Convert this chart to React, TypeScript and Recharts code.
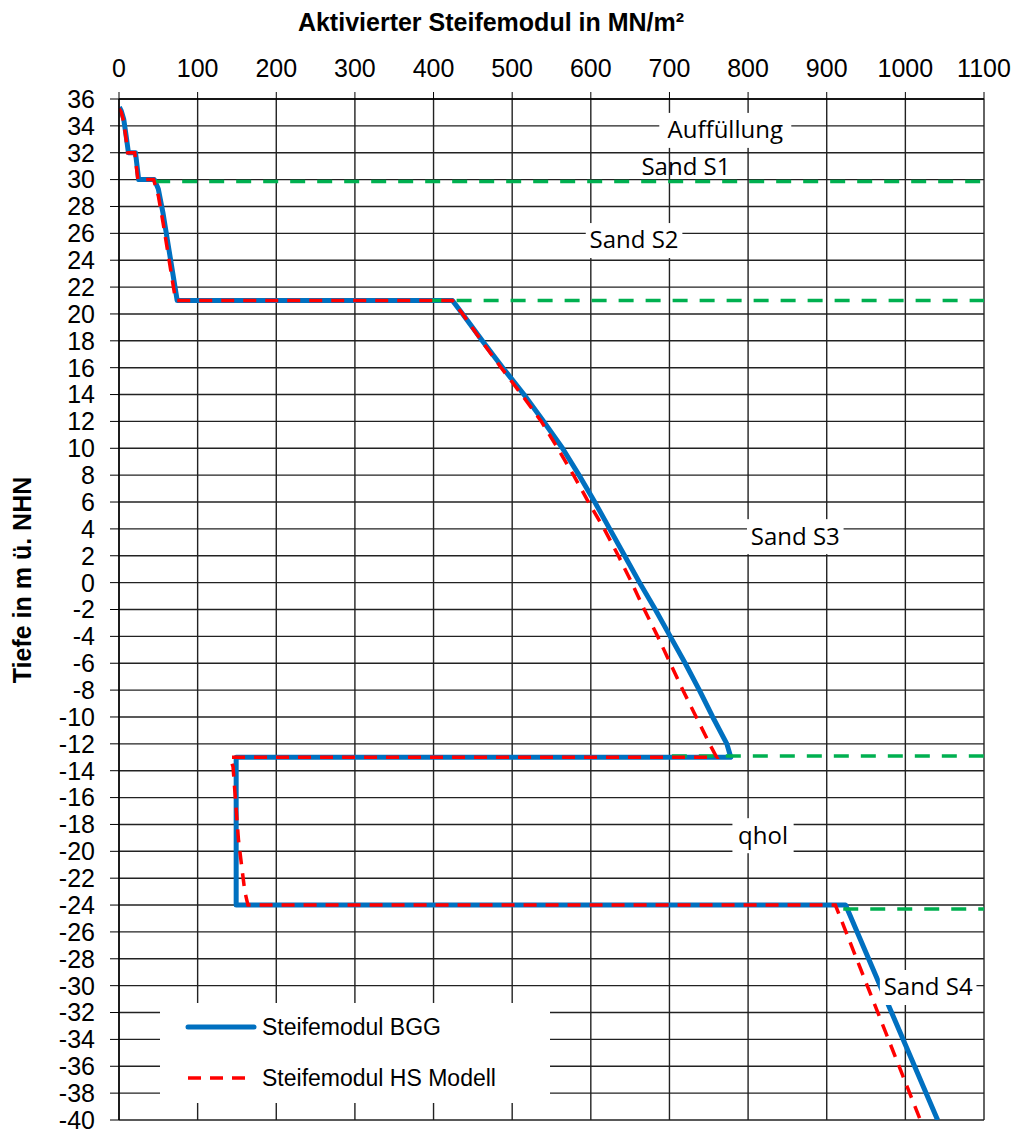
import { LineChart, Line, XAxis, YAxis, CartesianGrid, Legend, ReferenceDot } from 'recharts';

// x = Steifemodul [MN/m²], y = Höhe [m ü. NHN]
const X_TICKS = [0, 100, 200, 300, 400, 500, 600, 700, 800, 900, 1000, 1100];
const Y_TICKS = [
  -40, -38, -36, -34, -32, -30, -28, -26, -24, -22, -20, -18, -16, -14, -12, -10, -8, -6, -4, -2,
  0, 2, 4, 6, 8, 10, 12, 14, 16, 18, 20, 22, 24, 26, 28, 30, 32, 34, 36,
];

const BGG_CURVE: [number, number][] = [
  [0.5, 35.4], [3, 35.1], [6, 34.5], [9, 33.3], [12, 32], [21, 32], [25, 30], [45, 30],
  [50, 29.3], [56, 27.5], [74, 21], [424, 21], [437, 20], [462, 18], [488, 16], [515, 14],
  [540, 12], [564, 10], [585, 8], [605, 6], [624, 4], [643, 2], [662, 0], [682, -2],
  [701, -4], [720, -6], [738, -8], [755, -10], [773, -12], [778, -13], [149, -13],
  [149, -24], [924, -24], [1041, -40],
];

const HS_CURVE: [number, number][] = [
  [0, 35.3], [3, 35], [6, 34.3], [9, 33], [11, 32], [20, 32], [24, 30], [44, 30],
  [50, 28.8], [56, 26.8], [72, 21], [424, 21], [437, 20], [461, 18], [486, 16], [512, 14],
  [537, 12], [558, 10], [578, 8], [597, 6], [617, 4], [635, 2], [652, 0], [668, -2],
  [685, -4], [701, -6], [717, -8], [734, -10], [751, -12], [760, -13], [141, -13],
  [145, -13.7], [152, -19.2], [160, -23], [164, -24], [911, -24], [1019, -40],
];

// Schichtgrenzen (grün gestrichelt)
const LAYER_BOUNDS: [number, number][][] = [
  [[46, 29.85], [1100, 29.85]],
  [[395, 21], [1100, 21]],
  [[703, -12.9], [1100, -12.9]],
  [[921, -24.3], [1100, -24.3]],
];

const LAYER_NAMES = ['Auffüllung', 'Sand S1', 'Sand S2', 'Sand S3', 'qhol', 'Sand S4'];
const LAYER_NAME_X = [771, 721, 655, 860, 819, 1029];
const LAYER_NAME_Y = [33.7, 31.0, 25.5, 3.46, -18.8, -30.1];
const LAYER_NAME_BOX = [true, false, true, true, true, true];

const SERIES = [
  { name: 'Steifemodul BGG', color: '#0070C0', width: 5, dash: undefined as string | undefined },
  { name: 'Steifemodul HS Modell', color: '#FF0000', width: 3.5, dash: '13 9' },
];

const toPoints = (pairs: [number, number][]) => pairs.map(([x, y]) => ({ x, y }));

const AXIS_FONT = '"Liberation Sans", Arial, sans-serif';
const LABEL_FONT = '"Open Sans", "Noto Sans", sans-serif';

function layerLabel(text: string, box: boolean) {
  return (props: any) => {
    const vb = props.viewBox || {};
    const cx = vb.x + (vb.width || 0) / 2;
    const cy = vb.y + (vb.height || 0) / 2;
    const w = text.length * 11.8 + 14;
    return (
      <g>
        {box && <rect x={cx - w / 2} y={cy - 17} width={w} height={35} fill="#fff" />}
        <text
          x={cx}
          y={cy}
          dy="0.35em"
          textAnchor="middle"
          fontFamily={LABEL_FONT}
          fontSize={24}
          fill="#000"
        >
          {text}
        </text>
      </g>
    );
  };
}

function LegendBox() {
  return (
    <div style={{ width: 390, height: 100, position: 'relative', background: '#fff' }}>
      {SERIES.map((s, i) => (
        <div
          key={s.name}
          style={{
            position: 'absolute',
            left: 0,
            top: i * 51,
            height: 48,
            display: 'flex',
            alignItems: 'center',
            fontFamily: AXIS_FONT,
            fontSize: 23,
            color: '#000',
            whiteSpace: 'nowrap',
          }}
        >
          <svg width={100} height={48}>
            <line
              x1={28}
              x2={94}
              y1={24}
              y2={24}
              stroke={s.color}
              strokeWidth={s.width}
              strokeDasharray={s.dash}
              strokeLinecap={s.dash ? 'butt' : 'round'}
            />
          </svg>
          <span style={{ marginLeft: 2 }}>{s.name}</span>
        </div>
      ))}
    </div>
  );
}

export default function App() {
  return (
    <div style={{ position: 'absolute', left: 0, top: 0, width: 1016, height: 1136, background: '#fff' }}>
      <div
        style={{
          position: 'absolute',
          left: 491,
          top: 8,
          transform: 'translateX(-50%)',
          fontFamily: AXIS_FONT,
          fontWeight: 'bold',
          fontSize: 25,
          lineHeight: '28px',
          whiteSpace: 'nowrap',
        }}
      >
        Aktivierter Steifemodul in MN/m²
      </div>
      <div
        style={{
          position: 'absolute',
          left: 22,
          top: 580,
          transform: 'translate(-50%, -50%) rotate(-90deg)',
          fontFamily: AXIS_FONT,
          fontWeight: 'bold',
          fontSize: 25,
          lineHeight: '28px',
          whiteSpace: 'nowrap',
        }}
      >
        Tiefe in m ü. NHN
      </div>
      <LineChart width={1016} height={1136} margin={{ top: 59, right: 32, bottom: 16, left: 49 }}>
        <CartesianGrid stroke="#222" strokeWidth={1.4} />
        <XAxis
          type="number"
          dataKey="x"
          orientation="top"
          domain={[0, 1100]}
          ticks={X_TICKS}
          interval={0}
          allowDataOverflow
          height={40}
          tickSize={7}
          tickMargin={15}
          axisLine={{ stroke: '#000', strokeWidth: 1.4 }}
          tickLine={{ stroke: '#000' }}
          tick={{ fontSize: 25, fill: '#000', fontFamily: AXIS_FONT }}
        />
        <YAxis
          type="number"
          dataKey="y"
          domain={[-40, 36]}
          ticks={Y_TICKS}
          interval={0}
          allowDataOverflow
          width={70}
          tickSize={9}
          tickMargin={15}
          axisLine={{ stroke: '#000', strokeWidth: 1.4 }}
          tickLine={{ stroke: '#000' }}
          tick={{ fontSize: 25, fill: '#000', fontFamily: AXIS_FONT }}
        />
        <Line
          data={toPoints(BGG_CURVE)}
          dataKey="y"
          name={SERIES[0].name}
          type="linear"
          stroke={SERIES[0].color}
          strokeWidth={SERIES[0].width}
          strokeLinejoin="round"
          dot={false}
          activeDot={false}
          isAnimationActive={false}
        />
        {LAYER_BOUNDS.map((seg, i) => (
          <Line
            key={'bound' + i}
            data={toPoints(seg)}
            dataKey="y"
            type="linear"
            stroke="#00B050"
            strokeWidth={3.5}
            strokeDasharray="15 12"
            dot={false}
            activeDot={false}
            legendType="none"
            isAnimationActive={false}
          />
        ))}
        <Line
          data={toPoints(HS_CURVE)}
          dataKey="y"
          name={SERIES[1].name}
          type="linear"
          stroke={SERIES[1].color}
          strokeWidth={SERIES[1].width}
          strokeDasharray={SERIES[1].dash}
          dot={false}
          activeDot={false}
          isAnimationActive={false}
        />
        {LAYER_NAMES.map((name, i) => (
          <ReferenceDot
            key={name}
            x={LAYER_NAME_X[i]}
            y={LAYER_NAME_Y[i]}
            r={1}
            fill="none"
            stroke="none"
            ifOverflow="visible"
            label={layerLabel(name, LAYER_NAME_BOX[i])}
          />
        ))}
        <Legend
          layout="vertical"
          align="center"
          verticalAlign="middle"
          wrapperStyle={{ left: 160, top: 1003, width: 390, height: 100 }}
          content={() => <LegendBox />}
        />
      </LineChart>
    </div>
  );
}
